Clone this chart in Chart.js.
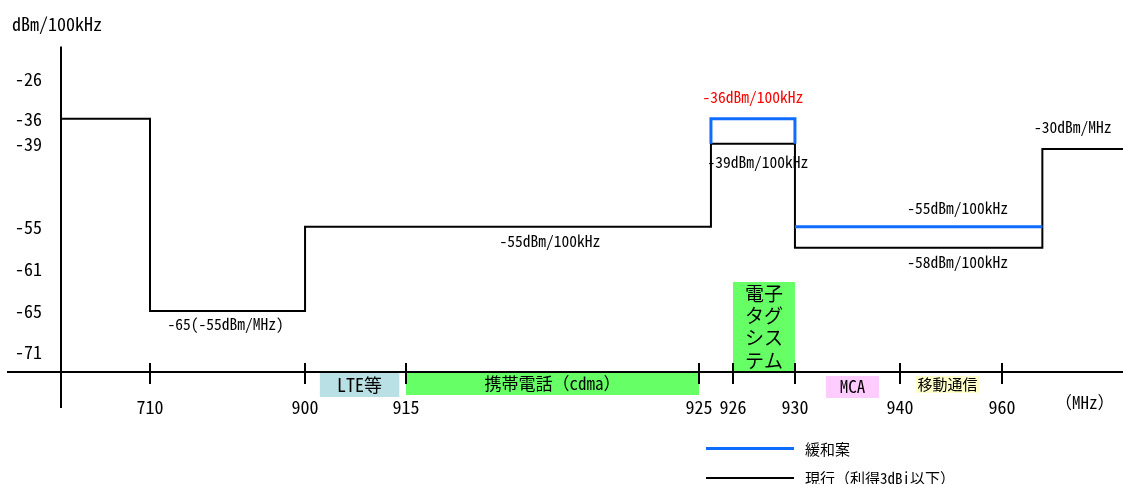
<!DOCTYPE html>
<html lang="ja">
<head>
<meta charset="utf-8">
<title>920MHz帯 スペクトラムマスク</title>
<script src="https://cdn.jsdelivr.net/npm/chart.js@4.4.1/dist/chart.umd.min.js"></script>
<style>
  body { margin: 0; background: #fff; }
  #wrap { position: relative; width: 1123px; height: 484px; }
  #legend { position: absolute; left: 706px; top: 434px; color: #000;
            font: 15px "Noto Sans Mono CJK JP", "Noto Sans CJK JP", sans-serif; }
  #legend .item { display: flex; align-items: center; height: 29px; }
  #legend .swatch { display: inline-block; width: 88px; margin-right: 11px; }
</style>
</head>
<body>
<div id="wrap">
  <canvas id="maskChart" width="1123" height="484"></canvas>
  <div id="legend"></div>
</div>
<script>
// tick labels
const xTickValues = [710, 900, 915, 925, 926, 930, 940, 960];
const yTickValues = [-26, -36, -39, -55, -61, -65, -71];

// current mask (stepped: level holds from edge i to edge i+1)
const currentEdges = [700, 710, 900, 925.35, 930, 965, 975];
const currentLevels = [-36, -65, -55, -39, -58, -40, -40];

// proposed relaxation (null = gap)
const proposedX = [925.35, 925.35, 930, 930, null, 930, 965];
const proposedY = [-39, -36, -36, -39, null, -55, -55];

// level labels
const noteTexts = ['-36dBm/100kHz', '-39dBm/100kHz', '-55dBm/100kHz', '-58dBm/100kHz',
                   '-55dBm/100kHz', '-65(-55dBm/MHz)', '-30dBm/MHz'];
const noteFrom = [925.35, 925.35, 930, 930, 900, 710, 965];
const noteTo = [930, 930, 965, 965, 925.35, 900, 975];
const noteLevel = [-36, -39, -55, -58, -55, -65, -40];

// frequency bands
const bandNames = ['LTE等', '携帯電話（cdma）', '電子\nタグ\nシス\nテム', 'MCA', '移動通信'];
const bandFrom = [902.2, 915, 926, 932.95, 943.1];
const bandTo = [914, 925, 930, 938, 955.5];

// schematic axes: value -> fraction of axis length (the drawing is not to scale)
const xStopValues = [700, 710, 900, 915, 925, 926, 930, 940, 960, 975];
const xStopPos = [0, 0.0838, 0.2298, 0.3249, 0.6008, 0.6328, 0.6911, 0.79, 0.8861, 1];
const yStopValues = [-74, -71, -65, -61, -55, -39, -36, -26, -19];
const yStopPos = [0, 0.0615, 0.1877, 0.3169, 0.4462, 0.7015, 0.7785, 0.8985, 1];

const FONT = '"Noto Sans Mono CJK JP", "Noto Sans CJK JP", monospace';
const BLUE = '#0f6cff';

// styles for notes and bands
const noteDx = [0, 5, 39, 39, 42, -2, -10];
const noteDy = [-22, 18, -19, 14, 14, 13, -22];
const noteColor = ['#ff0000', '#000', '#000', '#000', '#000', '#000', '#000'];
const bandTop = [1, 1, -90, 4, 4];
const bandHeight = [24, 22, 90, 22, 17];
const bandColor = ['#b9e0e4', '#66ff66', '#66ff66', '#ffccff', '#ffffcc'];
const bandFontSize = [18, 17, 19, 17, 15];

const scaleStops = {
  x: { values: xStopValues, pos: xStopPos },
  y: { values: yStopValues, pos: yStopPos }
};

function interp(v, xs, ys) {
  let i = 1;
  while (i < xs.length - 1 && v > xs[i]) i++;
  return ys[i - 1] + (v - xs[i - 1]) * (ys[i] - ys[i - 1]) / (xs[i] - xs[i - 1]);
}

// linear scale with piecewise mapping, as in the hand-drawn schematic
class PiecewiseScale extends Chart.LinearScale {
  getPixelForValue(value) {
    if (value === null || isNaN(value)) return NaN;
    const s = scaleStops[this.id];
    return this.getPixelForDecimal(interp(value, s.values, s.pos));
  }
  getValueForPixel(pixel) {
    const s = scaleStops[this.id];
    return interp(this.getDecimalForPixel(pixel), s.pos, s.values);
  }
}
PiecewiseScale.id = 'piecewise';
PiecewiseScale.defaults = Chart.LinearScale.defaults;
Chart.register(PiecewiseScale);

// bands under the axis
const bandPlugin = {
  id: 'bands',
  beforeDatasetsDraw(chart) {
    const { ctx, scales: { x }, chartArea } = chart;
    ctx.save();
    ctx.textAlign = 'center';
    ctx.textBaseline = 'middle';
    bandNames.forEach((name, i) => {
      const x1 = x.getPixelForValue(bandFrom[i]);
      const x2 = x.getPixelForValue(bandTo[i]);
      const top = chartArea.bottom + bandTop[i];
      ctx.fillStyle = bandColor[i];
      ctx.fillRect(x1, top, x2 - x1, bandHeight[i]);
      ctx.fillStyle = '#000';
      ctx.font = bandFontSize[i] + 'px ' + FONT;
      const lines = name.split('\n');
      const lh = 22.4;
      const cy = top + bandHeight[i] / 2 - (lines.length - 1) * lh / 2;
      lines.forEach((t, k) => ctx.fillText(t, (x1 + x2) / 2, cy + k * lh));
    });
    ctx.restore();
  }
};

// crossing axes, tick marks and level labels
const axesPlugin = {
  id: 'crossAxes',
  afterDatasetsDraw(chart) {
    const { ctx, scales: { x, y }, chartArea } = chart;
    ctx.save();
    ctx.strokeStyle = '#000';
    ctx.lineWidth = 2;
    ctx.beginPath();
    ctx.moveTo(chartArea.left - 54, chartArea.bottom);
    ctx.lineTo(chartArea.right, chartArea.bottom);
    ctx.moveTo(chartArea.left, chartArea.top);
    ctx.lineTo(chartArea.left, chartArea.bottom + 36);
    x.ticks.forEach(t => {
      const px = Math.round(x.getPixelForValue(t.value));
      ctx.moveTo(px, chartArea.bottom - 9);
      ctx.lineTo(px, chartArea.bottom + 12);
    });
    ctx.stroke();

    ctx.font = '15.5px ' + FONT;
    ctx.textAlign = 'center';
    ctx.textBaseline = 'middle';
    noteTexts.forEach((t, i) => {
      const cx = (x.getPixelForValue(noteFrom[i]) + x.getPixelForValue(noteTo[i])) / 2;
      ctx.fillStyle = noteColor[i];
      ctx.fillText(t, cx + noteDx[i], y.getPixelForValue(noteLevel[i]) + noteDy[i]);
    });
    ctx.restore();
  }
};

const chart = new Chart(document.getElementById('maskChart'), {
  type: 'line',
  data: {
    datasets: [{
      label: '緩和案',
      data: proposedX.map((v, i) => ({ x: v, y: proposedY[i] })),
      borderColor: BLUE,
      borderWidth: 3,
      pointRadius: 0,
      spanGaps: false
    }, {
      label: '現行（利得3dBi以下）',
      data: currentEdges.map((v, i) => ({ x: v, y: currentLevels[i] })),
      borderColor: '#000',
      borderWidth: 2,
      pointRadius: 0,
      stepped: 'before'
    }]
  },
  options: {
    responsive: false,
    animation: false,
    layout: { padding: { left: 12, right: 0, top: 0, bottom: 52 } },
    font: { family: FONT },
    plugins: {
      legend: { display: false },
      tooltip: { enabled: false },
      title: {
        display: true,
        text: 'dBm/100kHz',
        align: 'start',
        color: '#000',
        font: { family: FONT, size: 18, weight: 'normal' },
        padding: { top: 13, bottom: 12 }
      }
    },
    scales: {
      x: {
        type: 'piecewise',
        min: 700,
        max: 975,
        grid: { display: false, drawTicks: false },
        border: { display: false },
        afterBuildTicks: axis => { axis.ticks = xTickValues.map(v => ({ value: v })); },
        afterFit: axis => { axis.height = 60; },
        ticks: {
          autoSkip: false,
          maxRotation: 0,
          padding: 24,
          color: '#000',
          font: { family: FONT, size: 18 },
          callback: v => String(v)
        },
        title: {
          display: true,
          text: '（MHz） ',
          align: 'end',
          color: '#000',
          font: { family: FONT, size: 17 },
          padding: { top: 0, bottom: 19 }
        }
      },
      y: {
        type: 'piecewise',
        min: -74,
        max: -19,
        grid: { display: false, drawTicks: false },
        border: { display: false },
        afterBuildTicks: axis => { axis.ticks = yTickValues.map(v => ({ value: v })); },
        afterFit: axis => { axis.width = 49; },
        ticks: {
          autoSkip: false,
          padding: 19,
          color: '#000',
          font: { family: FONT, size: 18 },
          callback: v => String(v)
        }
      }
    }
  },
  plugins: [bandPlugin, axesPlugin]
});

// legend below the chart
const legendBox = document.getElementById('legend');
chart.data.datasets.forEach(ds => {
  const item = document.createElement('div');
  item.className = 'item';
  const sw = document.createElement('span');
  sw.className = 'swatch';
  sw.style.borderTop = ds.borderWidth + 'px solid ' + ds.borderColor;
  const txt = document.createElement('span');
  txt.textContent = ds.label;
  item.appendChild(sw);
  item.appendChild(txt);
  legendBox.appendChild(item);
});
</script>
</body>
</html>
